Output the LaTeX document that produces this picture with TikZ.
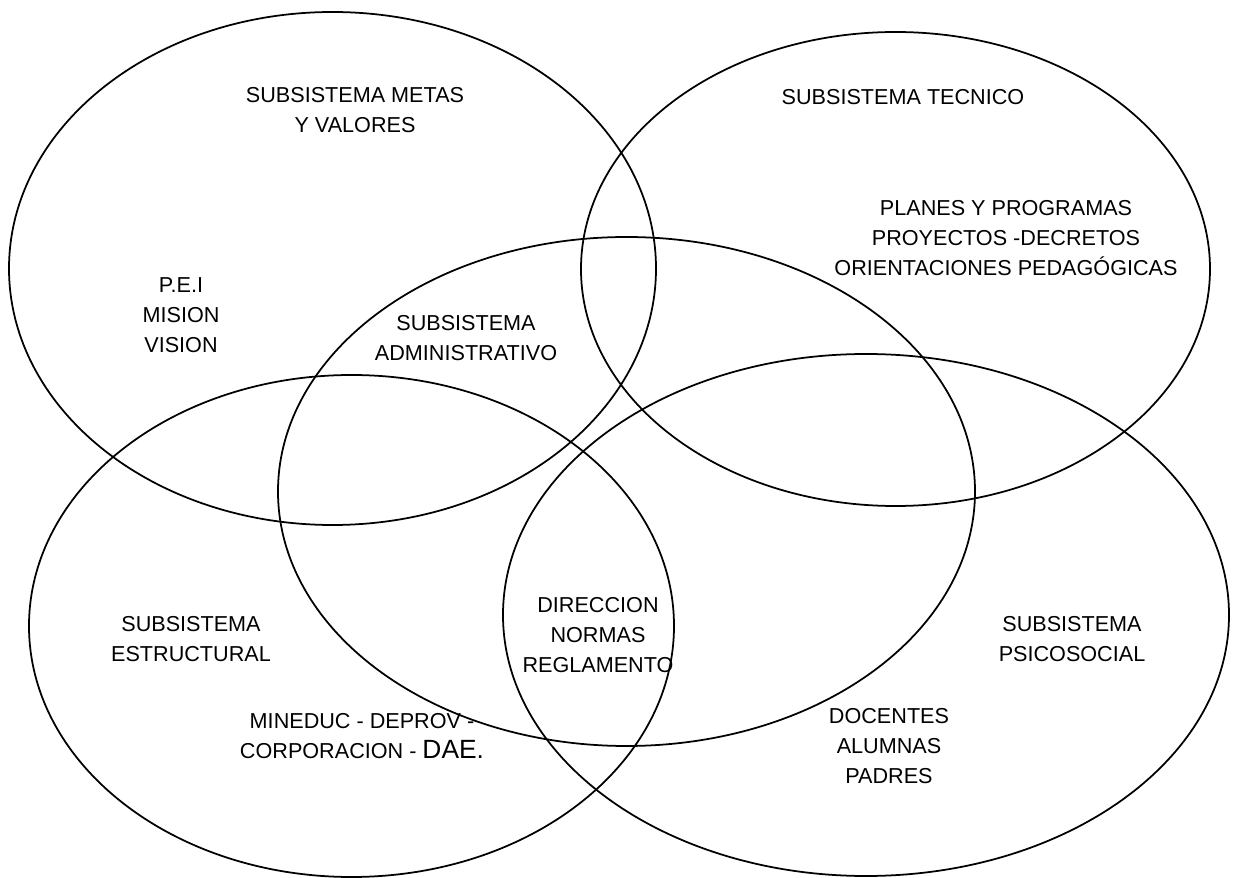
\documentclass[tikz,border=0pt]{standalone}
\usepackage{fontspec}
\setmainfont{Liberation Sans}
\begin{document}
\begin{tikzpicture}[x=0.02cm,y=-0.02cm,line width=1pt,every node/.style={align=center,inner sep=0pt,font=\fontsize{12.3}{17}\selectfont}]
\useasboundingbox (0,0) rectangle (1235,878);
\draw (332.5,268.5) ellipse [x radius=323.5,y radius=256.5];
\draw (895.5,269) ellipse [x radius=314.5,y radius=237];
\draw (626.5,491.5) ellipse [x radius=348.5,y radius=254.5];
\draw (351.5,626) ellipse [x radius=322.5,y radius=251];
\draw (866,615) ellipse [x radius=363,y radius=261];
\node (metas) at (355,110) {SUBSISTEMA METAS\\Y VALORES};
\node (pei) at (181,315) {P.E.I\\MISION\\VISION};
\node (tecnico) at (903,97) {SUBSISTEMA TECNICO};
\node (planes) at (1006,238) {PLANES Y PROGRAMAS\\PROYECTOS -DECRETOS\\ORIENTACIONES PEDAGÓGICAS};
\node (admin) at (466,338) {SUBSISTEMA\\ADMINISTRATIVO};
\node (estruc) at (191,639) {SUBSISTEMA\\ESTRUCTURAL};
\node (mineduc) at (362,736) {MINEDUC - DEPROV -\\CORPORACION - {\fontsize{15}{17}\selectfont DAE.}};
\node (direc) at (598,635) {DIRECCION\\NORMAS\\REGLAMENTO};
\node (psico) at (1072,639) {SUBSISTEMA\\PSICOSOCIAL};
\node (docentes) at (889,746) {DOCENTES\\ALUMNAS\\PADRES};
\end{tikzpicture}
\end{document}
